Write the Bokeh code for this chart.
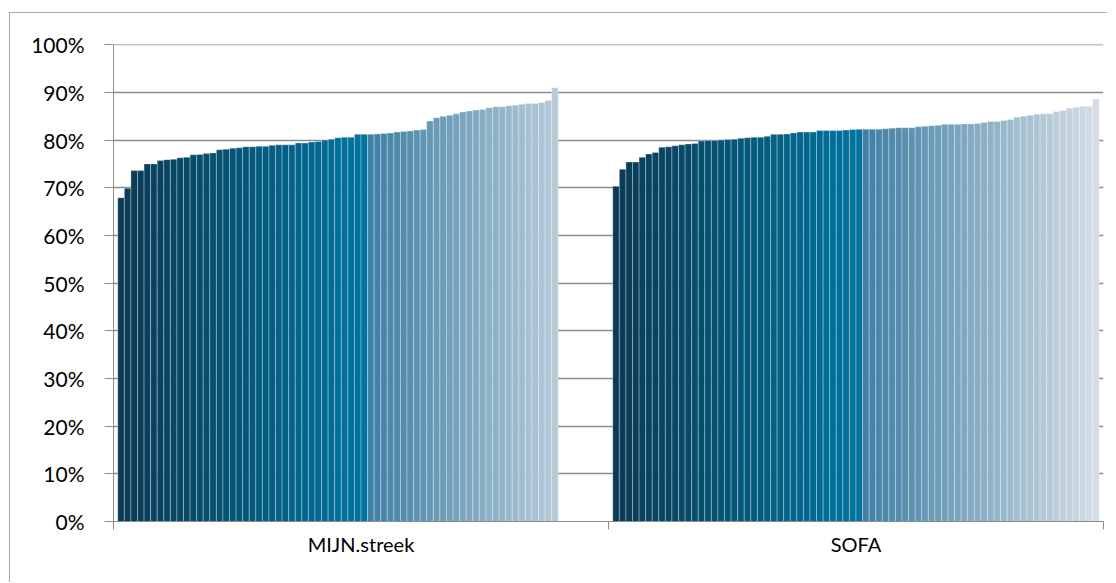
from bokeh.plotting import figure
from bokeh.models import ColumnDataSource, FixedTicker, NumeralTickFormatter, Range1d
from bokeh.embed import file_html
from bokeh.resources import INLINE

categories = ["MIJN.streek", "SOFA"]

mijn_streek = [67.9, 69.9, 73.6, 73.6, 75.0, 75.0, 75.7, 75.9, 76.0, 76.3,
               76.4, 76.9, 77.0, 77.2, 77.3, 78.0, 78.1, 78.3, 78.4, 78.6,
               78.6, 78.7, 78.7, 78.9, 79.0, 79.0, 79.0, 79.4, 79.4, 79.6,
               79.7, 80.0, 80.2, 80.5, 80.6, 80.6, 81.2, 81.2, 81.2, 81.3,
               81.4, 81.5, 81.7, 81.8, 81.9, 82.1, 82.2, 84.0, 84.7, 85.0,
               85.2, 85.5, 85.9, 86.1, 86.3, 86.4, 86.8, 87.0, 87.0, 87.2,
               87.3, 87.5, 87.7, 87.7, 87.9, 88.3, 91.0]

sofa = [70.3, 73.9, 75.4, 75.4, 76.4, 77.1, 77.4, 78.5, 78.6, 78.8,
        79.0, 79.2, 79.3, 79.8, 79.9, 79.9, 80.0, 80.1, 80.2, 80.4,
        80.5, 80.6, 80.6, 80.8, 81.2, 81.2, 81.3, 81.5, 81.7, 81.7,
        81.7, 82.0, 82.0, 82.0, 82.0, 82.1, 82.2, 82.3, 82.3, 82.3,
        82.3, 82.4, 82.5, 82.6, 82.6, 82.6, 82.8, 82.9, 83.0, 83.1,
        83.3, 83.3, 83.3, 83.4, 83.4, 83.5, 83.7, 83.9, 83.9, 84.1,
        84.3, 84.8, 85.0, 85.2, 85.4, 85.5, 85.5, 86.0, 86.2, 86.7,
        86.9, 87.1, 87.1, 88.6]

y_ticks = [0.0, 0.1, 0.2, 0.3, 0.4, 0.5, 0.6, 0.7, 0.8, 0.9, 1.0]

# ---- layout / style constants ----
N_SLOTS = 74
GAP = 1.3          # gap between category clusters, in bar widths
SPLIT = 38         # slot where the colour ramp changes
DARK = (10, 58, 84)
MID = (0, 116, 159)
GREY_START = (63, 128, 164)
GREY_END = (212, 221, 229)
FONT = "Lato"
AXIS_GREY = "#8c8c8c"


def lerp(a, b, t):
    return "#%02x%02x%02x" % tuple(int(round(a[k] + (b[k] - a[k]) * t)) for k in range(3))


def slot_color(i):
    if i < SPLIT:
        return lerp(DARK, MID, i / (SPLIT - 1))
    return lerp(GREY_START, GREY_END, (i - SPLIT) / (N_SLOTS - 1 - SPLIT))


bar_w = 1.0 / (N_SLOTS + GAP)
lefts, rights, tops, colors = [], [], [], []
for g, series in enumerate([mijn_streek, sofa]):
    for i, v in enumerate(series):
        l = g + GAP / 2 * bar_w + i * bar_w
        lefts.append(l)
        rights.append(l + bar_w)
        tops.append(v / 100.0)
        colors.append(slot_color(i))

src = ColumnDataSource(dict(left=lefts, right=rights, top=tops, color=colors))

p = figure(width=1098, height=570, output_backend="svg", toolbar_location=None,
           x_range=Range1d(0, len(categories)), y_range=Range1d(0, 1.0005),
           min_border_left=104, min_border_right=4, min_border_top=32,
           min_border_bottom=61)
p.margin = (12, 0, 0, 9)
p.styles = {"outline": "1px solid #8c8c8c", "outline-offset": "-1px"}
p.outline_line_color = None
p.background_fill_color = "white"
p.border_fill_color = "white"

p.quad(left="left", right="right", bottom=0, top="top", source=src,
       fill_color="color", line_color="white", line_alpha=0.3, line_width=1)

# y axis
p.yaxis.ticker = FixedTicker(ticks=y_ticks)
p.yaxis.formatter = NumeralTickFormatter(format="0%")
p.yaxis.axis_line_color = AXIS_GREY
p.yaxis.major_tick_line_color = AXIS_GREY
p.yaxis.major_tick_in = 0
p.yaxis.major_tick_out = 9
p.yaxis.minor_tick_line_color = None
p.yaxis.major_label_standoff = 20
p.yaxis.major_label_text_font = FONT
p.yaxis.major_label_text_font_size = "21px"
p.yaxis.major_label_text_color = "black"

# x axis: labels at centres, tick marks at category boundaries
centers = [g + 0.5 for g in range(len(categories))]
p.xaxis.ticker = FixedTicker(ticks=centers, minor_ticks=list(range(len(categories) + 1)))
p.xaxis.major_label_overrides = {c: name for c, name in zip(centers, categories)}
p.xaxis.axis_line_color = AXIS_GREY
p.xaxis.major_tick_line_color = None
p.xaxis.major_tick_in = 0
p.xaxis.major_tick_out = 0
p.xaxis.minor_tick_line_color = AXIS_GREY
p.xaxis.minor_tick_in = 0
p.xaxis.minor_tick_out = 8
p.xaxis.major_label_standoff = 2
p.xaxis.major_label_text_font = FONT
p.xaxis.major_label_text_font_size = "20px"
p.xaxis.major_label_text_color = "black"

p.xgrid.grid_line_color = None
p.ygrid.ticker = FixedTicker(ticks=y_ticks)
p.ygrid.grid_line_color = AXIS_GREY
p.ygrid.grid_line_width = 1.3

open("out.html", "w").write(file_html(p, INLINE))
